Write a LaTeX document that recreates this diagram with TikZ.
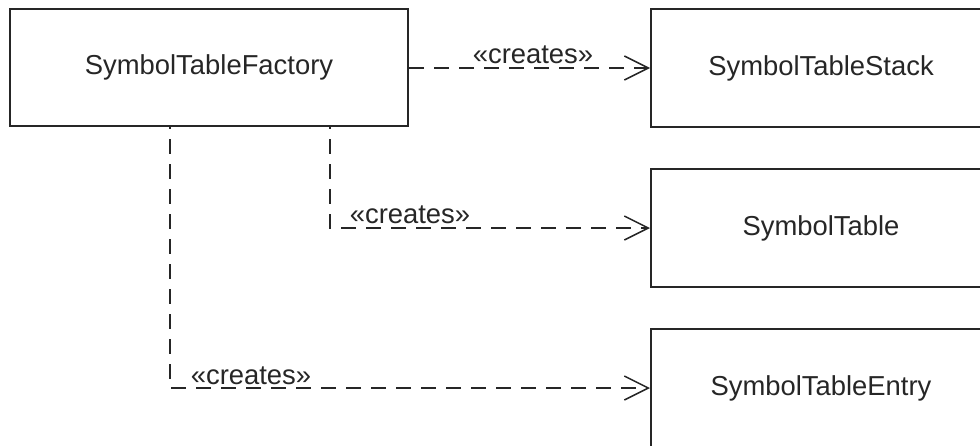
\documentclass[tikz,border=0pt]{standalone}
\usepackage{fontspec}
\setmainfont{Liberation Sans}
\usetikzlibrary{arrows.meta}
\begin{document}
\begin{tikzpicture}[x=0.5pt,y=-0.5pt,
  cls/.style={draw=black!85,line width=1pt,rectangle,inner sep=0pt,
    font=\fontsize{13.7}{16}\selectfont,text=black!85},
  dep/.style={draw=black!85,line width=0.75pt,dash pattern=on 7.5pt off 5pt,
    -{Straight Barb[length=12pt,width=12pt,line width=0.75pt]}},
  lbl/.style={font=\fontsize{13.7}{16}\selectfont,text=black!85,inner sep=0pt}]
\useasboundingbox (0,0) rectangle (980,445);
\clip (0,0) rectangle (980,445);
\node[cls,minimum width=199pt,minimum height=58.5pt] (fac) at (209,67.5) {SymbolTableFactory};
\node[cls,minimum width=170pt,minimum height=59pt] (stack) at (821,68) {SymbolTableStack};
\node[cls,minimum width=170pt,minimum height=59pt] (tab) at (821,228) {SymbolTable};
\node[cls,minimum width=170pt,minimum height=59pt] (ent) at (821,388) {SymbolTableEntry};
\coordinate (k2) at (330,228);
\coordinate (k3) at (170,388);
\draw[dep] (fac.east |- stack.west) -- (stack.west);
\draw[dep,dash phase=6.5pt] (fac.south -| k2) |- (tab.west);
\draw[dep,dash phase=6.5pt] (fac.south -| k3) |- (ent.west);
\node[lbl] (l1) at (533,55) {«creates»};
\node[lbl] (l2) at (410,215) {«creates»};
\node[lbl] (l3) at (251,376) {«creates»};
\end{tikzpicture}
\end{document}
